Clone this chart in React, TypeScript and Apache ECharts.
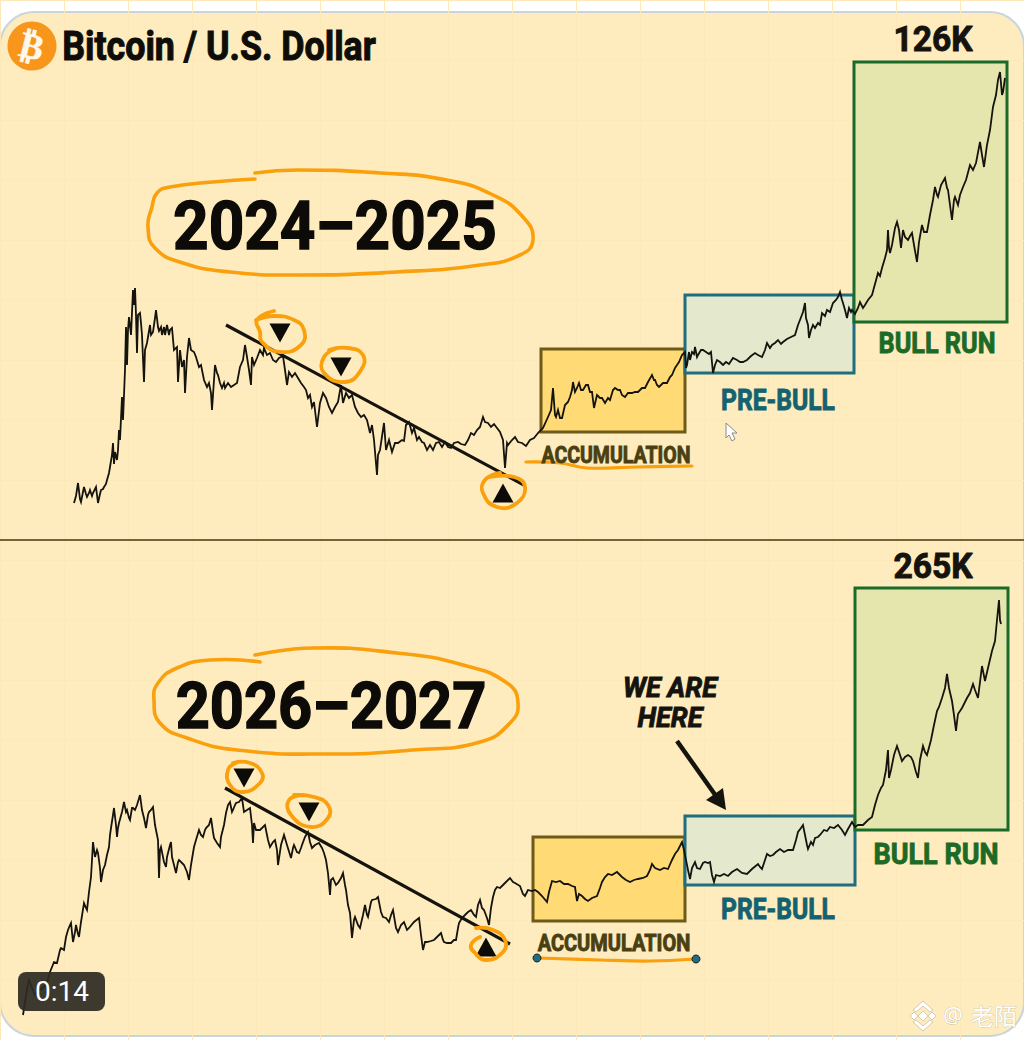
import React, { useEffect, useRef } from "react";
import * as echarts from "echarts";

// [time step, price level]
const topPrices: number[][] = [[74,37],[76,44],[78,57],[80,41],[81,38],[83,48],[84,53],[86,46],[87,43],[89,47],[90,50],[92,44],[93,47],[95,51],[96,53],[97,45],[98,37],[100,46],[101,50],[103,51],[104,53],[106,56],[107,60],[109,67],[110,73],[112,85],[113,97],[114,76],[115,88],[117,80],[118,90],[119,110],[120,100],[122,143],[123,120],[125,170],[126,213],[127,175],[128,210],[129,223],[131,205],[133,250],[134,235],[135,252],[136,225],[137,187],[138,225],[140,227],[141,217],[142,205],[144,158],[145,190],[147,197],[148,203],[150,215],[151,205],[153,208],[155,222],[156,230],[158,213],[159,209],[161,213],[162,205],[164,213],[165,205],[167,215],[169,205],[170,210],[172,212],[174,190],[177,193],[178,158],[180,190],[182,173],[184,180],[185,147],[187,183],[189,202],[191,190],[194,188],[196,183],[199,173],[201,175],[204,160],[207,153],[209,157],[211,147],[212,130],[214,160],[215,175],[217,167],[218,165],[220,157],[222,152],[224,157],[225,152],[228,157],[231,153],[234,155],[237,157],[240,173],[243,180],[245,195],[247,183],[249,170],[251,155],[252,183],[254,175],[257,182],[260,190],[263,185],[264,192],[267,185],[270,187],[273,180],[276,178],[279,182],[283,184],[285,170],[287,155],[289,168],[292,163],[295,167],[298,162],[301,157],[304,153],[306,150],[308,142],[310,145],[312,133],[314,138],[317,113],[320,137],[323,147],[326,142],[329,133],[332,127],[335,133],[338,138],[341,155],[343,137],[346,147],[349,142],[352,145],[355,133],[358,127],[361,123],[364,125],[367,120],[370,107],[372,115],[374,100],[377,65],[378,85],[380,90],[384,117],[386,90],[389,100],[392,88],[395,97],[398,97],[402,100],[404,99],[406,115],[409,118],[412,107],[414,112],[417,100],[419,103],[422,98],[424,97],[427,90],[430,95],[433,90],[436,97],[439,98],[442,93],[445,98],[448,93],[451,92],[454,97],[458,98],[461,96],[465,95],[468,100],[471,107],[474,105],[477,110],[480,113],[483,123],[485,118],[488,117],[491,113],[494,116],[497,112],[500,108],[503,100],[505,72],[507,97],[508,95],[512,100],[515,103],[518,98],[522,97],[526,94],[530,100],[534,102],[538,107],[543,112],[548,123],[551,130],[553,152],[555,125],[556,123],[558,130],[560,122],[562,122],[565,135],[568,138],[570,143],[572,150],[573,158],[575,148],[577,152],[579,157],[581,150],[583,150],[586,155],[588,155],[590,148],[592,148],[594,132],[597,145],[600,142],[602,142],[605,137],[608,142],[610,140],[613,150],[615,152],[618,150],[620,150],[622,145],[625,143],[628,147],[632,147],[635,148],[638,148],[642,152],[645,152],[648,158],[652,165],[654,160],[655,160],[657,155],[659,153],[663,157],[667,157],[670,163],[672,165],[675,172],[677,175],[679,178],[682,185],[685,188],[686,172],[687,175],[689,188],[690,180],[692,188],[694,186],[695,193],[697,183],[698,185],[701,190],[703,190],[706,188],[709,186],[711,188],[713,167],[715,175],[717,180],[720,178],[723,175],[726,178],[729,176],[733,182],[737,180],[740,178],[743,178],[747,180],[751,184],[755,187],[758,185],[762,183],[765,190],[767,197],[770,192],[772,195],[775,197],[778,200],[781,196],[783,198],[787,201],[791,203],[795,205],[798,215],[800,220],[803,228],[805,237],[806,222],[808,215],[809,202],[811,210],[813,215],[815,212],[818,217],[820,215],[822,227],[825,224],[827,230],[830,228],[833,237],[836,240],[838,243],[840,248],[842,240],[843,237],[845,230],[847,222],[849,232],[851,228],[852,230],[855,226],[858,232],[860,238],[863,232],[865,235],[868,240],[872,245],[875,256],[878,267],[880,264],[882,272],[885,282],[887,290],[888,310],[889,292],[890,287],[892,295],[895,312],[897,318],[899,310],[901,292],[903,310],[905,303],[908,300],[910,304],[912,307],[914,295],[917,278],[919,298],[922,315],[924,308],[927,308],[930,325],[933,340],[935,353],[937,345],[938,343],[941,355],[945,362],[947,352],[948,350],[950,335],[952,320],[954,340],[955,343],[958,335],[960,345],[963,353],[966,360],[970,375],[973,370],[976,377],[980,398],[982,385],[984,373],[987,395],[990,410],[993,433],[996,445],[998,460],[1000,468],[1002,445],[1003,448],[1005,462]];
const bottomPrices: number[][] = [[23,25],[25,38],[27,50],[29,60],[32,52],[35,45],[39,50],[43,52],[47,57],[50,68],[52,73],[54,78],[57,77],[60,90],[61,92],[64,90],[66,103],[68,110],[70,115],[71,117],[73,98],[75,108],[76,115],[78,106],[79,103],[81,118],[84,137],[86,132],[87,130],[89,148],[91,163],[92,180],[93,198],[95,183],[97,190],[98,187],[100,172],[101,158],[103,170],[105,175],[107,185],[109,193],[110,205],[111,212],[113,225],[114,232],[116,215],[117,203],[118,212],[119,217],[122,228],[124,238],[126,228],[127,230],[129,222],[130,220],[132,232],[133,232],[135,230],[137,235],[140,245],[142,230],[144,222],[146,212],[148,225],[149,228],[151,230],[153,233],[155,215],[157,205],[158,200],[159,162],[160,190],[161,193],[164,178],[166,173],[167,183],[168,187],[170,195],[171,198],[172,183],[174,175],[176,167],[178,178],[179,180],[182,177],[184,175],[187,168],[189,160],[191,175],[194,193],[196,200],[199,210],[201,205],[203,203],[205,210],[206,212],[209,215],[211,222],[213,208],[214,202],[217,197],[220,193],[221,203],[224,215],[226,227],[228,235],[230,238],[232,228],[233,230],[235,235],[236,237],[239,238],[242,242],[244,228],[247,230],[250,232],[252,215],[253,197],[254,217],[256,210],[260,210],[262,212],[265,215],[268,200],[270,193],[273,198],[275,200],[277,190],[278,175],[281,195],[284,205],[287,195],[291,182],[293,192],[294,195],[297,188],[299,187],[301,192],[302,195],[305,203],[308,208],[310,198],[312,192],[315,195],[319,197],[322,192],[324,187],[326,180],[328,167],[330,145],[331,160],[333,162],[336,155],[338,157],[341,162],[343,167],[345,155],[346,150],[348,135],[350,127],[352,102],[354,120],[355,123],[358,115],[360,112],[363,125],[365,135],[367,125],[368,123],[371,138],[372,140],[376,141],[378,143],[381,128],[383,123],[386,122],[389,118],[391,125],[393,130],[396,112],[398,108],[401,115],[404,118],[407,110],[409,112],[414,118],[419,122],[421,105],[423,90],[425,98],[427,98],[431,99],[434,100],[437,103],[441,107],[443,100],[444,98],[447,97],[451,97],[454,100],[456,100],[458,112],[459,117],[462,122],[465,125],[468,128],[471,130],[474,125],[476,123],[478,135],[480,140],[482,132],[484,130],[487,122],[489,115],[491,132],[493,143],[495,150],[497,153],[500,152],[503,155],[506,158],[510,162],[513,158],[515,157],[520,154],[523,146],[525,144],[528,150],[532,149],[535,150],[538,148],[542,144],[547,138],[549,148],[552,159],[556,158],[560,159],[564,156],[568,156],[572,154],[575,153],[577,139],[579,146],[582,144],[585,141],[588,139],[592,142],[597,144],[600,152],[602,158],[605,163],[608,166],[612,165],[617,168],[622,163],[626,160],[630,158],[634,160],[638,161],[643,162],[647,164],[650,170],[652,176],[655,172],[660,170],[664,172],[668,171],[672,180],[675,186],[678,190],[682,198],[684,190],[686,180],[688,170],[690,161],[692,172],[695,178],[697,172],[700,171],[703,177],[705,178],[708,177],[710,178],[712,165],[714,158],[716,165],[720,164],[724,166],[728,164],[732,168],[737,171],[742,167],[747,166],[752,171],[758,176],[760,173],[762,171],[765,180],[767,186],[770,184],[773,185],[776,188],[780,191],[784,188],[788,190],[793,190],[796,200],[798,208],[801,212],[803,215],[805,205],[807,195],[808,191],[811,198],[813,195],[815,202],[818,203],[820,205],[824,210],[827,209],[830,213],[834,212],[838,215],[842,210],[845,205],[848,211],[852,218],[855,213],[858,215],[863,215],[868,220],[872,223],[875,235],[878,245],[881,252],[883,255],[886,270],[888,290],[889,262],[891,270],[894,285],[897,294],[900,285],[902,279],[905,283],[908,285],[911,283],[913,279],[916,268],[918,262],[920,280],[923,294],[925,288],[927,285],[931,300],[934,315],[937,329],[939,333],[942,342],[945,352],[947,366],[949,352],[952,339],[954,325],[956,309],[957,318],[958,326],[962,332],[967,342],[970,347],[973,356],[975,350],[978,342],[980,358],[982,374],[985,359],[988,372],[992,389],[995,399],[997,420],[999,440],[1000,420],[1001,416]];

// zones: from, to, low, high
const topAccumulation = [541, 685, 108, 191];
const topPreBull = [685, 854, 167, 245];
const topBullRun = [854, 1007, 218, 478];
const bottomAccumulation = [533, 685, 119, 203];
const bottomPreBull = [685, 855, 155, 224];
const bottomBullRun = [855, 1008, 210, 452];

const topTrend = [[226, 215], [524, 55]];
const bottomTrend = [[225, 252], [510, 96]];
const topSellMarks = [[280, 207], [341, 173]];
const topBuyMarks = [[503, 47]];
const bottomSellMarks = [[244, 262], [309, 228]];
const bottomBuyMarks = [[486, 93]];

const titleText = "Bitcoin / U.S. Dollar";
const topPeriod = "2024–2025";
const bottomPeriod = "2026–2027";
const topTarget = "126K";
const bottomTarget = "265K";

const ORANGE = "#f9a00c";
const acc = { color: "#ffda75", borderColor: "#6e5a1a", borderWidth: 3 };
const pre = { color: "#e4e8cc", borderColor: "#1f6d7f", borderWidth: 3 };
const bull = { color: "#e5e6ae", borderColor: "#1a6b2a", borderWidth: 3 };

const zone = (z: number[], style: any) => [
  { xAxis: z[0], yAxis: z[3], itemStyle: style },
  { xAxis: z[1], yAxis: z[2] },
];

const txt = (text: string, x: number, y: number, size: number, fill: string, scaleX = 1, extra: any = {}, family = "Roboto") => ({
  type: "text",
  x,
  y,
  scaleX,
  z: 20,
  rotation: extra.rotation || 0,
  style: {
    text,
    fontFamily: family,
    fontSize: size,
    fontWeight: extra.weight || 700,
    fontStyle: extra.style || "normal",
    fill,
    stroke: extra.stroke === undefined ? fill : extra.stroke,
    lineWidth: extra.lw === undefined ? 0.9 : extra.lw,
    align: "center",
    verticalAlign: "middle",
    textAlign: "center",
    textVerticalAlign: "middle",
    opacity: extra.opacity === undefined ? 1 : extra.opacity,
  },
});

const stroke = (points: number[][], color = ORANGE, lineWidth = 3.6, smooth = 0.5) => ({
  type: "polyline",
  z: 15,
  shape: { points, smooth },
  style: { stroke: color, lineWidth, fill: "none", lineCap: "round", lineJoin: "round" },
});

const poly = (points: number[][], fill: string, extra: any = {}) => ({
  type: "polygon",
  z: extra.z || 20,
  shape: { points },
  style: { fill, stroke: extra.stroke || "none", lineWidth: extra.lw || 0, opacity: extra.opacity === undefined ? 1 : extra.opacity },
});

const ellipseTop = [[255,179],[213,182],[170,187],[157,193],[152,207],[148,227],[155,248],[183,263],[230,272],[297,275],[397,272],[480,265],[520,255],[533,240],[523,217],[493,195],[447,180],[380,173],[297,170],[255,173]];
const ellipseBottom = [[260,662],[210,660],[177,668],[158,683],[154,700],[160,723],[187,738],[237,750],[330,754],[413,750],[480,742],[510,723],[518,703],[507,683],[463,665],[397,653],[313,648],[255,655]];
const loops = [
  [[274,311],[257,320],[260,332],[262,342],[280,352],[301,345],[304,330],[294,320],[274,316],[256,320]],
  [[338,348],[324,357],[324,373],[345,382],[361,370],[363,355],[348,348],[329,350]],
  [[500,473],[485,480],[483,493],[497,507],[517,503],[525,487],[514,477],[490,477]],
  [[236,763],[228,770],[230,785],[243,792],[260,783],[262,773],[250,763],[233,763]],
  [[304,795],[289,800],[291,815],[311,827],[328,818],[328,805],[314,797],[294,795]],
  [[476,928],[493,930],[505,940],[503,952],[486,960],[475,953],[471,945],[480,937]],
];

const lineSeries = (data: number[][], idx: number, zones: any[]) => ({
  type: "line",
  xAxisIndex: idx,
  yAxisIndex: idx,
  data,
  showSymbol: false,
  smooth: false,
  silent: true,
  z: 5,
  lineStyle: { color: "#15130d", width: 1.8, join: "miter" },
  markArea: { silent: true, z: 1, label: { show: false }, data: zones },
});
const trendSeries = (data: number[][], idx: number) => ({
  type: "line",
  xAxisIndex: idx,
  yAxisIndex: idx,
  data,
  showSymbol: false,
  silent: true,
  z: 6,
  lineStyle: { color: "#15130d", width: 3.2 },
});
const markSeries = (data: number[][], idx: number, rotate: number) => ({
  type: "scatter",
  xAxisIndex: idx,
  yAxisIndex: idx,
  data,
  symbol: "triangle",
  symbolSize: [21, 19],
  symbolRotate: rotate,
  silent: true,
  z: 7,
  itemStyle: { color: "#0c0b08", opacity: 1 },
});

const axisX = (gridIndex: number) => ({
  type: "value", gridIndex, min: 0, max: 1024, interval: 64,
  axisLine: { show: false }, axisTick: { show: false }, axisLabel: { show: false },
  splitLine: { show: true, lineStyle: { color: "#fde8b9", width: 1 } },
});
const axisY = (gridIndex: number, max: number) => ({
  type: "value", gridIndex, min: 0, max, interval: 60,
  axisLine: { show: false }, axisTick: { show: false }, axisLabel: { show: false },
  splitLine: { show: true, lineStyle: { color: "#fde8b9", width: 1 } },
});

export default function App() {
  const ref = useRef<HTMLDivElement>(null);
  useEffect(() => {
    document.body.style.margin = "0";
    const chart = echarts.init(ref.current!, undefined, { renderer: "svg" });
    const graphic: any[] = [
      { type: "rect", z: -10, shape: { x: 0, y: 12, width: 1024, height: 1024, r: 34 }, style: { fill: "#feecbf", stroke: "#c8d5dc", lineWidth: 2 } },
      { type: "line", z: 3, shape: { x1: 0, y1: 540, x2: 1024, y2: 540 }, style: { stroke: "#75643a", lineWidth: 2 } },
      // header
      { type: "circle", z: 20, shape: { cx: 32, cy: 46, r: 24.5 }, style: { fill: "#f7961a" } },
      txt("₿", 32, 46, 36, "#fff8ea", 1, { rotation: -0.24, lw: 0.4 }, "DejaVu Sans"),
      txt(titleText, 219, 46, 40, "#0f0d09", 0.895, { lw: 1 }),
      txt(topTarget, 933, 39, 35, "#15130d", 0.96),
      txt(bottomTarget, 933, 566, 35, "#15130d", 0.96),
      txt(topPeriod, 335, 227, 66, "#0c0b08", 0.94, { lw: 1.4 }),
      txt(bottomPeriod, 331, 706, 64, "#0c0b08", 0.93, { lw: 1.4 }),
      stroke(ellipseTop),
      stroke(ellipseBottom),
      ...loops.map((l) => stroke(l, ORANGE, 3.8, 0.5)),
      // zone labels
      txt("BULL RUN", 937, 343, 29, "#1c6a26", 0.87),
      txt("PRE-BULL", 778, 400, 29, "#14626f", 0.85),
      txt("ACCUMULATION", 616, 455, 23, "#4a3f12", 0.85),
      txt("BULL RUN", 936, 854, 30, "#1c6a26", 0.9),
      txt("PRE-BULL", 778, 909, 29, "#14626f", 0.85),
      txt("ACCUMULATION", 614, 943, 23, "#4a3f12", 0.87),
      stroke([[526,462],[560,463],[587,468],[637,467],[692,466]], ORANGE, 3.2, 0.4),
      stroke([[538,958],[600,960],[650,961],[696,959]], ORANGE, 3.2, 0.4),
      { type: "circle", z: 21, shape: { cx: 537, cy: 958, r: 4 }, style: { fill: "#1f6d7f", stroke: "#222", lineWidth: 1 } },
      { type: "circle", z: 21, shape: { cx: 696, cy: 959, r: 4 }, style: { fill: "#1f6d7f", stroke: "#222", lineWidth: 1 } },
      // callout
      txt("WE ARE", 670, 687, 28, "#15130d", 0.97, { style: "italic" }),
      txt("HERE", 670, 717, 28, "#15130d", 0.97, { style: "italic" }),
      { type: "line", z: 20, shape: { x1: 677, y1: 741, x2: 716, y2: 796 }, style: { stroke: "#15130d", lineWidth: 4.5 } },
      poly([[726,810],[706,800],[723,788]], "#15130d"),
      // screen capture details
      { type: "rect", z: 30, shape: { x: 18, y: 972, width: 87, height: 39, r: 8 }, style: { fill: "#2e2b24", opacity: 0.93 } },
      { ...txt("0:14", 62, 991, 28, "#ffffff", 1, { weight: 400, lw: 0, stroke: "none" }, "Roboto"), z: 31 },
      poly([[726,423],[726,438],[729,435],[732,441],[735,439],[732,433],[737,433]], "#ffffff", { stroke: "#8a8a8a", lw: 1 }),
      // watermark
      poly([[923,1011],[928,1016],[923,1021],[918,1016]], "#ffffff", { stroke: "#b8ad90", lw: 0.6, z: 30 }),
      poly([[914,1012],[918,1016],[914,1020],[910,1016]], "#ffffff", { stroke: "#b8ad90", lw: 0.6, z: 30 }),
      poly([[932,1012],[936,1016],[932,1020],[928,1016]], "#ffffff", { stroke: "#b8ad90", lw: 0.6, z: 30 }),
      poly([[923,1001],[933,1010],[930,1012],[923,1006],[916,1012],[913,1010]], "#ffffff", { stroke: "#b8ad90", lw: 0.6, z: 30 }),
      poly([[923,1031],[933,1022],[930,1020],[923,1026],[916,1020],[913,1022]], "#ffffff", { stroke: "#b8ad90", lw: 0.6, z: 30 }),
      { ...txt("@", 953, 1014, 22, "#ffffff", 1, { weight: 400, stroke: "#b8ad90", lw: 0.6 }, "Noto Sans"), z: 30 },
      { ...txt("老陌", 994, 1015, 23, "#ffffff", 1, { weight: 400, stroke: "#b8ad90", lw: 0.6 }, "Noto Sans CJK SC"), z: 30 },
    ];
    chart.setOption({
      animation: false,
      backgroundColor: "#ffffff",
      grid: [
        { left: 0, top: 0, width: 1024, height: 540 },
        { left: 0, top: 540, width: 1024, height: 500 },
      ],
      xAxis: [axisX(0), axisX(1)],
      yAxis: [axisY(0, 540), axisY(1, 500)],
      series: [
        lineSeries(topPrices, 0, [zone(topAccumulation, acc), zone(topPreBull, pre), zone(topBullRun, bull)]),
        trendSeries(topTrend, 0),
        markSeries(topSellMarks, 0, 180),
        markSeries(topBuyMarks, 0, 0),
        lineSeries(bottomPrices, 1, [zone(bottomAccumulation, acc), zone(bottomPreBull, pre), zone(bottomBullRun, bull)]),
        trendSeries(bottomTrend, 1),
        markSeries(bottomSellMarks, 1, 180),
        markSeries(bottomBuyMarks, 1, 0),
      ],
      graphic,
    });
    return () => chart.dispose();
  }, []);
  return <div ref={ref} style={{ width: 1024, height: 1040 }} />;
}
